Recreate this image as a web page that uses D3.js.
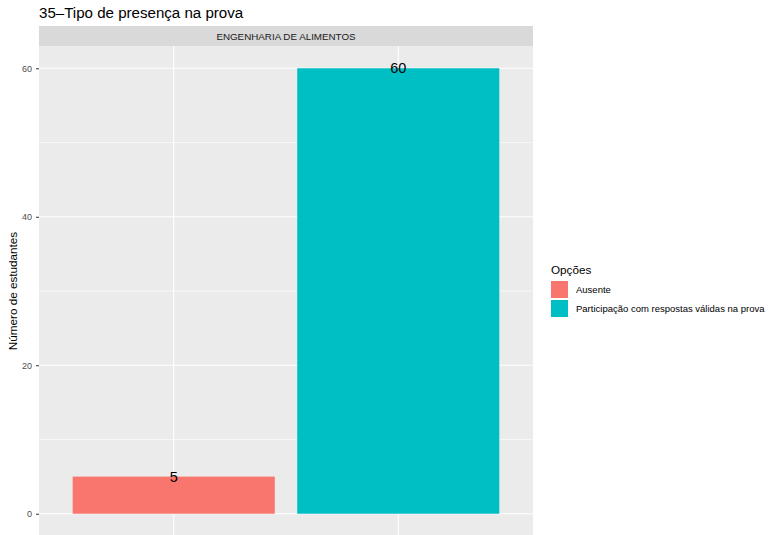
<!DOCTYPE html>
<html><head><meta charset="utf-8">
<script src="https://cdn.jsdelivr.net/npm/d3@7"></script>
<style>body{margin:0;background:#fff}svg{display:block;font-family:"Liberation Sans",Arial,sans-serif}</style>
</head><body><svg id="c" width="769" height="535"></svg>
<script>
const categories = ["Ausente", "Participação com respostas válidas na prova"];
const values = [5, 60];
const colors = ["#F8766D", "#00BFC4"];
const yTicks = [0, 20, 40, 60];
const yMinor = [10, 30, 50];
const title = "35\u2013Tipo de presença na prova";
const facet = "ENGENHARIA DE ALIMENTOS";
const yLabel = "Número de estudantes";
const legendTitle = "Opções";

const svg = d3.select("#c");
const pL = 39, pR = 533, pT = 46, pB = 536;
// emulate ggplot discrete expansion: range [0.4, 2.6]
const xc = d3.scaleLinear().domain([0.4, 2.6]).range([pL, pR]);
const y = d3.scaleLinear().domain([-3, 63]).range([pB, pT]);

svg.append("text").attr("x", pL).attr("y", 18).attr("font-size", 15.1).attr("fill", "#000").text(title);
// strip
svg.append("rect").attr("x", pL).attr("y", 26).attr("width", pR - pL).attr("height", 20).attr("fill", "#D9D9D9");
svg.append("text").attr("x", (pL + pR) / 2).attr("y", 39.5).attr("text-anchor", "middle").attr("font-size", 9.8).attr("fill", "#1A1A1A").text(facet);
// panel
svg.append("rect").attr("x", pL).attr("y", pT).attr("width", pR - pL).attr("height", pB - pT).attr("fill", "#EBEBEB");
const g = svg.append("g");
yMinor.forEach(v => g.append("line").attr("x1", pL).attr("x2", pR).attr("y1", y(v)).attr("y2", y(v)).attr("stroke", "#fff").attr("stroke-width", 0.6));
yTicks.forEach(v => g.append("line").attr("x1", pL).attr("x2", pR).attr("y1", y(v)).attr("y2", y(v)).attr("stroke", "#fff").attr("stroke-width", 1.1));
categories.forEach((c, i) => g.append("line").attr("x1", xc(i + 1)).attr("x2", xc(i + 1)).attr("y1", pT).attr("y2", pB).attr("stroke", "#fff").attr("stroke-width", 1.1));
// bars
categories.forEach((c, i) => {
  g.append("rect").attr("x", xc(i + 1 - 0.45)).attr("width", xc(i + 1.45) - xc(i + 0.55))
    .attr("y", y(values[i])).attr("height", y(0) - y(values[i])).attr("fill", colors[i]);
  g.append("text").attr("x", xc(i + 1)).attr("y", y(values[i])).attr("dy", "0.35em")
    .attr("text-anchor", "middle").attr("font-size", 14.5).attr("fill", "#000").text(values[i]);
});
// y axis
const ya = svg.append("g").attr("transform", `translate(${pL},0)`)
  .call(d3.axisLeft(y).tickValues(yTicks).tickSize(3).tickPadding(4));
ya.select(".domain").remove();
ya.selectAll("line").attr("stroke", "#333");
ya.selectAll("text").attr("font-size", 9).attr("fill", "#4D4D4D").attr("font-family", "Liberation Sans, Arial, sans-serif");
// x ticks
categories.forEach((c, i) => svg.append("line").attr("x1", xc(i + 1)).attr("x2", xc(i + 1)).attr("y1", pB).attr("y2", pB + 3).attr("stroke", "#333"));
// y label
svg.append("text").attr("transform", `translate(17,${(pT + pB) / 2}) rotate(-90)`).attr("text-anchor", "middle")
  .attr("font-size", 11.7).attr("fill", "#000").text(yLabel);
// legend
svg.append("text").attr("x", 551).attr("y", 274).attr("font-size", 11.7).attr("fill", "#000").text(legendTitle);
categories.forEach((c, i) => {
  svg.append("rect").attr("x", 551).attr("y", 281 + i * 19).attr("width", 17).attr("height", 17).attr("fill", colors[i]);
  svg.append("text").attr("x", 576).attr("y", 289.5 + i * 19).attr("dy", "0.35em").attr("font-size", 9.5).attr("fill", "#000").text(c);
});
</script></body></html>
